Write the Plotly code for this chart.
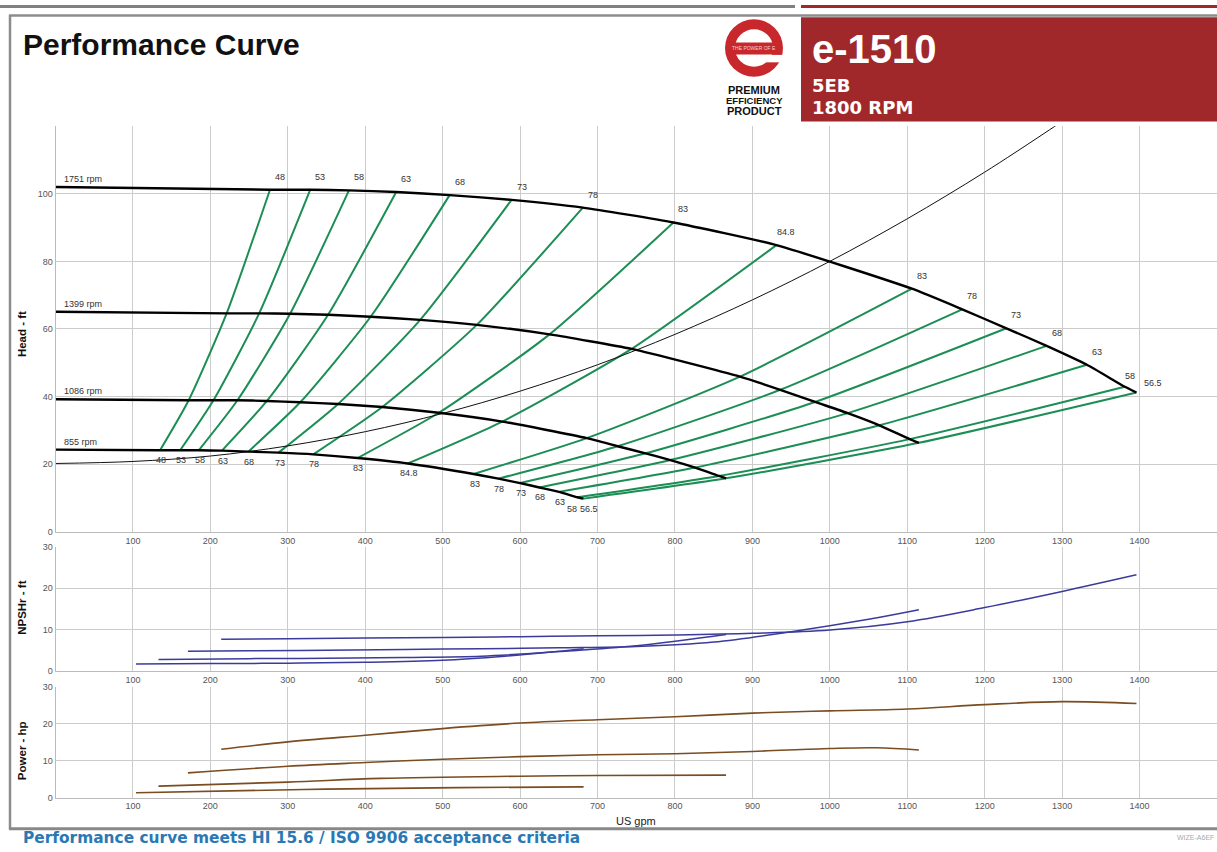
import plotly.graph_objects as go

W, H = 1217, 852

# ---------------- pump data (US gpm, ft, hp) ----------------
rpm_labels = ["1751 rpm", "1399 rpm", "1086 rpm", "855 rpm"]
shutoff_head = [102.0, 65.1, 39.2, 24.3]

eff_labels = ["48", "53", "58", "63", "68", "73", "78", "83", "84.8",
              "83", "78", "73", "68", "63", "58", "56.5"]

# flow / head at each efficiency point along each speed curve
q_1751 = [277, 329, 379, 440, 509, 589, 681, 798, 931, 1106, 1171, 1228, 1280, 1332, 1381, 1396]
h_1751 = [101.2, 101.2, 101.0, 100.5, 99.6, 98.2, 95.9, 91.5, 84.8, 71.9, 65.8, 60.2, 55.0, 49.4, 42.9, 41.2]
q_1399 = [221, 263, 303, 352, 407, 471, 544, 638, 744, 884, 936, 981, 1023, 1064, 1103, 1115]
h_1399 = [64.6, 64.6, 64.5, 64.2, 63.6, 62.7, 61.2, 58.4, 54.1, 45.9, 42.0, 38.4, 35.1, 31.5, 27.4, 26.3]
q_1086 = [172, 204, 235, 273, 316, 365, 422, 495, 577, 686, 726, 762, 794, 826, 857, 866]
h_1086 = [38.9, 38.9, 38.9, 38.7, 38.3, 37.8, 36.9, 35.2, 32.6, 27.7, 25.3, 23.2, 21.2, 19.0, 16.5, 15.8]
q_855 = [135, 161, 185, 215, 249, 288, 333, 390, 455, 540, 572, 600, 625, 650, 674, 682]
h_855 = [24.1, 24.1, 24.1, 24.0, 23.7, 23.4, 22.9, 21.8, 20.2, 17.1, 15.7, 14.4, 13.1, 11.8, 10.2, 9.8]

# system curve
sys_q = [0, 100, 200, 300, 400, 500, 600, 700, 800, 900, 1000, 1100, 1200, 1300]
sys_h = [20.2, 20.8, 22.4, 25.4, 29.6, 35.0, 41.6, 49.4, 58.4, 68.6, 80.0, 92.6, 106.4, 121.4]

# NPSHr (ft)
npsh_q_1751 = [214, 300, 400, 500, 600, 700, 800, 900, 1000, 1100, 1200, 1300, 1396]
npsh_1751 = [7.7, 7.8, 8.0, 8.1, 8.3, 8.5, 8.7, 9.1, 9.9, 11.9, 15.3, 19.2, 23.2]
npsh_q_1399 = [171, 250, 350, 450, 550, 650, 750, 850, 950, 1050, 1115]
npsh_1399 = [4.8, 4.9, 5.0, 5.2, 5.4, 5.6, 5.9, 7.0, 9.5, 12.5, 14.8]
npsh_q_1086 = [133, 250, 350, 450, 550, 650, 750, 866]
npsh_1086 = [2.8, 3.0, 3.1, 3.3, 3.6, 4.7, 6.1, 8.8]
npsh_q_855 = [104, 200, 300, 400, 500, 580, 640, 682]
npsh_855 = [1.7, 1.8, 1.9, 2.1, 2.6, 3.6, 4.6, 5.4]

# power (hp)
pw_q_1751 = [214, 300, 400, 500, 600, 700, 800, 900, 1000, 1100, 1200, 1300, 1396]
pw_1751 = [13.1, 15.1, 16.9, 18.7, 20.2, 21.1, 21.9, 22.9, 23.5, 24.0, 25.2, 26.0, 25.5]
pw_q_1399 = [171, 300, 400, 500, 600, 700, 800, 900, 1000, 1060, 1115]
pw_1399 = [6.7, 8.5, 9.5, 10.4, 11.1, 11.6, 11.9, 12.5, 13.3, 13.5, 12.9]
pw_q_1086 = [133, 300, 420, 600, 700, 866]
pw_1086 = [3.1, 4.2, 5.2, 5.8, 6.0, 6.1]
pw_q_855 = [104, 320, 520, 682]
pw_855 = [1.3, 2.2, 2.7, 2.9]

flow_ticks = list(range(100, 1500, 100))
head_ticks = [0, 20, 40, 60, 80, 100]
small_ticks = [0, 10, 20, 30]

# ---------------- helpers ----------------
def px(x):
    return x / W

def py(y):
    return 1 - y / H

FONT = "Liberation Sans, Arial, sans-serif"
GREEN = "#1c8e55"
NPSH_COLOR = "#3b3b9c"
POWER_COLOR = "#7a4c20"
GRID = "#cccccc"

fig = go.Figure()

speed_q = [q_1751, q_1399, q_1086, q_855]
speed_h = [h_1751, h_1399, h_1086, h_855]

# iso-efficiency lines (from lowest to highest speed)
for i in range(len(eff_labels)):
    fig.add_trace(go.Scatter(
        x=[q_855[i], q_1086[i], q_1399[i], q_1751[i]],
        y=[h_855[i], h_1086[i], h_1399[i], h_1751[i]],
        mode="lines", line=dict(color=GREEN, width=2, shape="spline", smoothing=0.6),
        xaxis="x", yaxis="y", hoverinfo="skip"))

# system curve
fig.add_trace(go.Scatter(x=sys_q, y=sys_h, mode="lines",
                         line=dict(color="#111", width=1, shape="spline"),
                         xaxis="x", yaxis="y", hoverinfo="skip"))

# head curves
for h0, q, h in zip(shutoff_head, speed_q, speed_h):
    fig.add_trace(go.Scatter(x=[0] + q, y=[h0] + h, mode="lines",
                             line=dict(color="#000", width=2.4, shape="spline", smoothing=0.5),
                             xaxis="x", yaxis="y", hoverinfo="skip"))

# NPSHr curves
for q, n in [(npsh_q_1751, npsh_1751), (npsh_q_1399, npsh_1399),
             (npsh_q_1086, npsh_1086), (npsh_q_855, npsh_855)]:
    fig.add_trace(go.Scatter(x=q, y=n, mode="lines",
                             line=dict(color=NPSH_COLOR, width=1.5, shape="spline"),
                             xaxis="x2", yaxis="y2", hoverinfo="skip"))

# power curves
for q, p in [(pw_q_1751, pw_1751), (pw_q_1399, pw_1399),
             (pw_q_1086, pw_1086), (pw_q_855, pw_855)]:
    fig.add_trace(go.Scatter(x=q, y=p, mode="lines",
                             line=dict(color=POWER_COLOR, width=1.6, shape="spline"),
                             xaxis="x3", yaxis="y3", hoverinfo="skip"))

annotations = []
label_font = dict(family=FONT, size=9, color="#333")

# label offsets (px) along the top curve and the bottom curve; the last two
# labels sit close together at the end of the curves and are pushed apart
n_lab = len(eff_labels)
top_dx = [10] * n_lab
top_dy = [13] * n_lab
top_dx[-2], top_dy[-2] = 5, 11
top_dx[-1], top_dy[-1] = 17, 9
bot_dx = [1] * n_lab
bot_dy = [-10] * n_lab
bot_dx[-2], bot_dy[-2] = -5, -12
bot_dx[-1], bot_dy[-1] = 5, -10

for lab, q, h, dx, dy in zip(eff_labels, q_1751, h_1751, top_dx, top_dy):
    annotations.append(dict(x=q, y=h, xref="x", yref="y", text=lab, showarrow=False,
                            xanchor="center", yanchor="middle", xshift=dx, yshift=dy,
                            font=label_font))
for lab, q, h, dx, dy in zip(eff_labels, q_855, h_855, bot_dx, bot_dy):
    annotations.append(dict(x=q, y=h, xref="x", yref="y", text=lab, showarrow=False,
                            xanchor="center", yanchor="middle", xshift=dx, yshift=dy,
                            font=label_font))

# speed labels
for lab, h0 in zip(rpm_labels, shutoff_head):
    annotations.append(dict(x=8, y=h0, xref="x", yref="y", text=lab, showarrow=False,
                            xanchor="left", yanchor="bottom", yshift=1,
                            font=label_font))

# axis titles
axis_title_font = dict(family=FONT, size=11.5, color="#111")
for txt, ypix in [("<b>Head - ft</b>", 333), ("<b>NPSHr - ft</b>", 610), ("<b>Power - hp</b>", 755)]:
    annotations.append(dict(x=px(22), y=py(ypix), xref="paper", yref="paper", text=txt,
                            showarrow=False, textangle=-90, xanchor="center", yanchor="middle",
                            font=axis_title_font))
annotations.append(dict(x=px(636), y=py(826), xref="paper", yref="paper", text="US gpm",
                        showarrow=False, xanchor="center", yanchor="middle",
                        font=dict(family=FONT, size=11, color="#222")))

# header texts
HEAD_FONT = "DejaVu Sans, " + FONT
annotations += [
    dict(x=px(21), y=py(40), xref="paper", yref="paper", text="<b>Performance Curve</b>",
         showarrow=False, xanchor="left", yanchor="middle",
         font=dict(family=FONT, size=30, color="#111")),
    dict(x=px(810), y=py(45), xref="paper", yref="paper", text="<b>e-1510</b>",
         showarrow=False, xanchor="left", yanchor="middle",
         font=dict(family=FONT, size=40, color="white")),
    dict(x=px(811), y=py(81.5), xref="paper", yref="paper", text="<b>5EB</b>",
         showarrow=False, xanchor="left", yanchor="middle", borderpad=0,
         font=dict(family=HEAD_FONT, size=18, color="white")),
    dict(x=px(811), y=py(104), xref="paper", yref="paper", text="<b>1800 RPM</b>",
         showarrow=False, xanchor="left", yanchor="middle", borderpad=0,
         font=dict(family=HEAD_FONT, size=18, color="white")),
    dict(x=px(754), y=py(86), xref="paper", yref="paper", text="<b>PREMIUM</b>",
         showarrow=False, xanchor="center", yanchor="middle",
         font=dict(family=FONT, size=11, color="#111")),
    dict(x=px(754), y=py(96.5), xref="paper", yref="paper", text="<b>EFFICIENCY</b>",
         showarrow=False, xanchor="center", yanchor="middle",
         font=dict(family=FONT, size=9.5, color="#111")),
    dict(x=px(754), y=py(107), xref="paper", yref="paper", text="<b>PRODUCT</b>",
         showarrow=False, xanchor="center", yanchor="middle",
         font=dict(family=FONT, size=11, color="#111")),
    dict(x=px(754), y=py(44), xref="paper", yref="paper", text="THE POWER OF E",
         showarrow=False, xanchor="center", yanchor="middle",
         font=dict(family=FONT, size=5, color="#f4d0d0")),
    dict(x=px(21), y=py(843), xref="paper", yref="paper",
         text="<b>Performance curve meets HI 15.6 / ISO 9906 acceptance criteria</b>",
         showarrow=False, xanchor="left", yanchor="middle",
         font=dict(family="DejaVu Sans, " + FONT, size=15.4, color="#2a78b4")),
    dict(x=px(1216), y=py(842), xref="paper", yref="paper", text="WIZE-A6EF",
         showarrow=False, xanchor="right", yanchor="middle",
         font=dict(family=FONT, size=7, color="#aaa")),
]

RED = "#a0282b"

def rect(x0, y0, x1, y1, color, line_w=0):
    return dict(type="rect", xref="paper", yref="paper",
                x0=px(x0), x1=px(x1), y0=py(y1), y1=py(y0),
                fillcolor=color, line=dict(width=line_w, color=color), layer="above")

def circle(cx, cy, r, color):
    return dict(type="circle", xref="paper", yref="paper",
                x0=px(cx - r), x1=px(cx + r), y0=py(cy + r), y1=py(cy - r),
                fillcolor=color, line=dict(width=0), layer="above")

def hline(x0, x1, y, color, w):
    return dict(type="line", xref="paper", yref="paper", x0=px(x0), x1=px(x1),
                y0=py(y), y1=py(y), line=dict(color=color, width=w), layer="above")

def vline(x, y0, y1, color, w):
    return dict(type="line", xref="paper", yref="paper", x0=px(x), x1=px(x),
                y0=py(y0), y1=py(y1), line=dict(color=color, width=w), layer="above")

shapes = [
    rect(0, 0, 795, 3, "#808080"),
    rect(801, 0, 1217, 3, RED),
    hline(9, 1217, 10.5, "#8c8c8c", 2.5),
    vline(10, 10, 834, "#8c8c8c", 2.5),
    hline(9, 1217, 833.5, "#888888", 3),
    rect(801, 12.5, 1217, 118, RED),
    # logo
    circle(754, 43.5, 29, "#c8282b"),
    circle(754, 43.5, 19, "white"),
    rect(733, 38, 775, 50, "#c8282b"),
    rect(766, 50.5, 785, 58, "white"),
]

axis_common = dict(range=[0, 1500], tickvals=flow_ticks, showgrid=True, gridcolor=GRID,
                   gridwidth=1, zeroline=False, showline=True, linecolor="#bbbbbb",
                   linewidth=1, ticks="", tickfont=dict(family=FONT, size=9, color="#555"),
                   domain=[px(55.5), 1.0], fixedrange=True)

y_common = dict(showgrid=True, gridcolor=GRID, gridwidth=1, zeroline=False,
                showline=True, linecolor="#bbbbbb", linewidth=1, ticks="",
                tickfont=dict(family=FONT, size=9, color="#555"), fixedrange=True)

fig.update_layout(
    width=W, height=H, margin=dict(l=0, r=0, t=0, b=0),
    paper_bgcolor="white", plot_bgcolor="white", showlegend=False,
    xaxis=dict(axis_common, anchor="y"),
    yaxis=dict(y_common, range=[0, 120], tickvals=head_ticks, anchor="x",
               domain=[py(533), py(122.6)]),
    xaxis2=dict(axis_common, anchor="y2"),
    yaxis2=dict(y_common, range=[0, 30], tickvals=small_ticks, anchor="x2",
                domain=[py(674), py(548)]),
    xaxis3=dict(axis_common, anchor="y3"),
    yaxis3=dict(y_common, range=[0, 30], tickvals=small_ticks, anchor="x3",
                domain=[py(802), py(690)]),
    annotations=annotations,
    shapes=shapes,
)

fig.write_html("out.html")
